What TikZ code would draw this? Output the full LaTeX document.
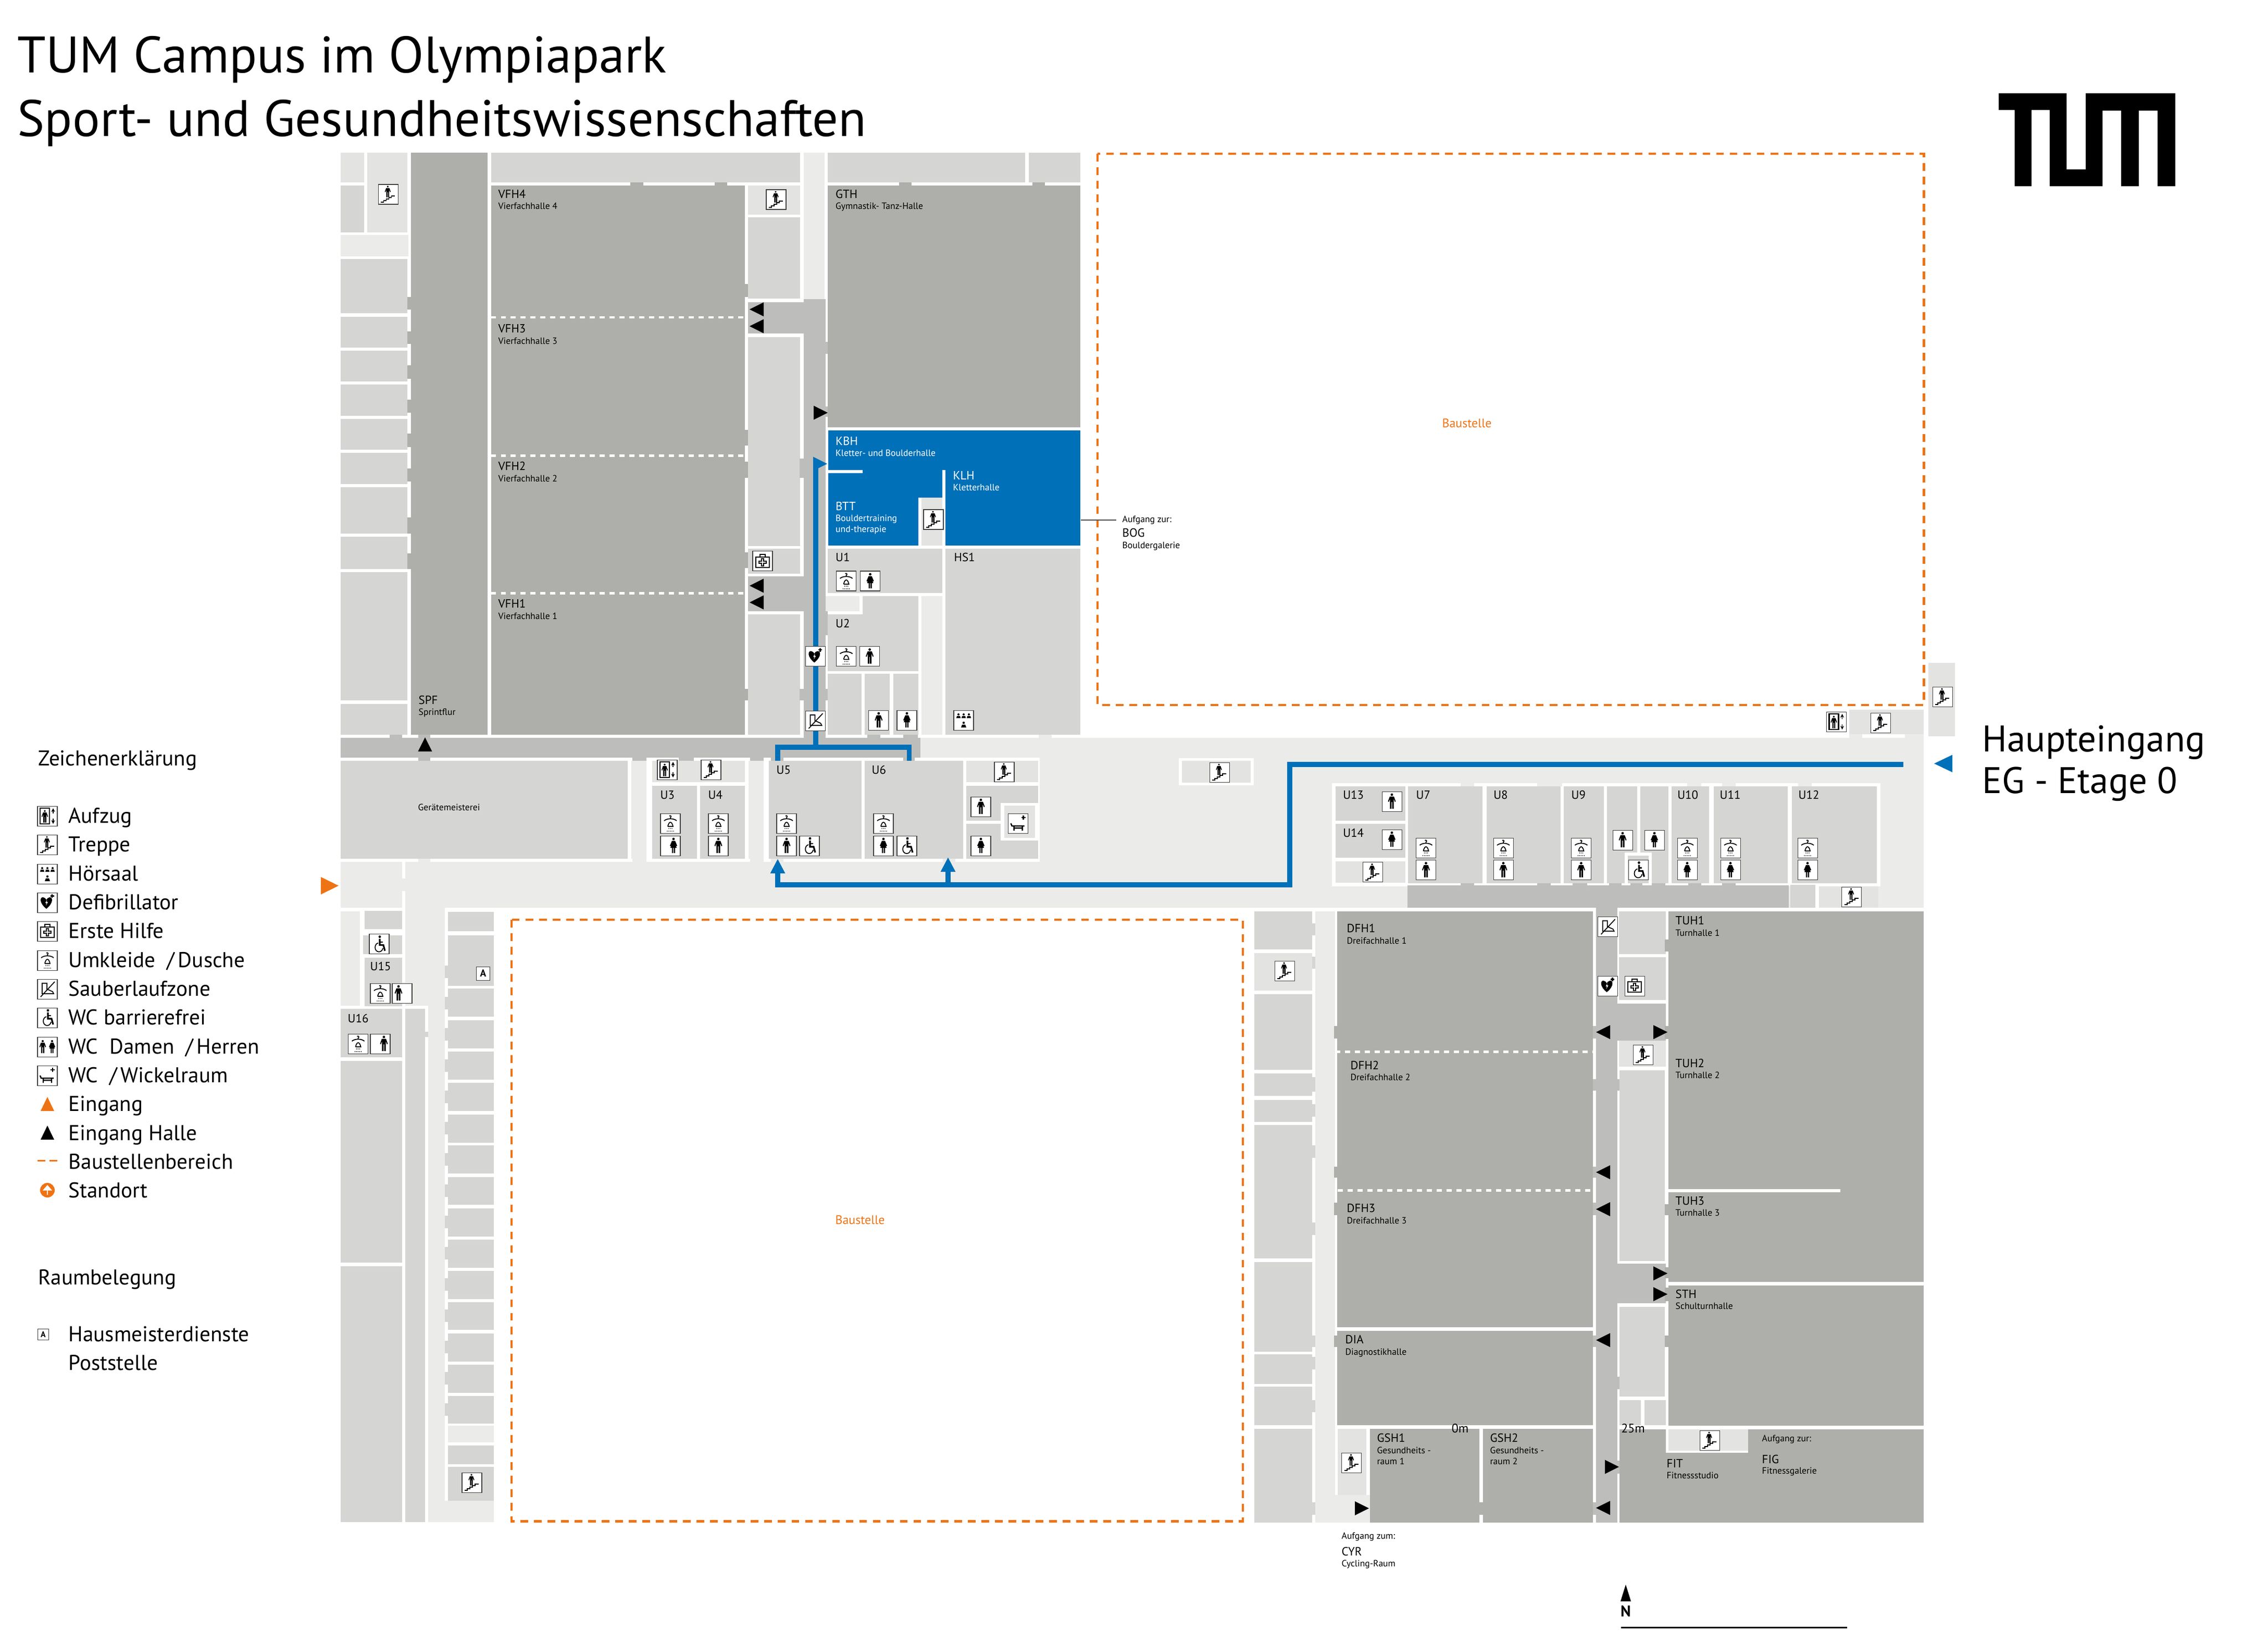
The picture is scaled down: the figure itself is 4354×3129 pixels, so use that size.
\documentclass[tikz,border=0pt]{standalone}
\usepackage{fontspec}
\setmainfont{PT Sans}
\usetikzlibrary{arrows.meta}
\definecolor{hallgrey}{HTML}{AEAFAA}
\definecolor{roomgrey}{HTML}{D5D5D3}
\definecolor{stairgrey}{HTML}{E3E3E1}
\definecolor{floorgrey}{HTML}{EBECE9}
\definecolor{passgrey}{HTML}{BDBEBB}
\definecolor{tumblue}{HTML}{0070B8}
\definecolor{siteorange}{HTML}{EE7314}
\newcommand{\iconbox}{\draw[iconframe] (-19,-19) rectangle (19,19);}
\newcommand{\manglyph}{%
  \fill (0,-13) circle (2.4);
  \fill (-4,-9.5) -- (4,-9.5) -- (7.5,0) -- (5.8,1) -- (3.6,-5) -- (3.6,14) -- (0.6,14) -- (0.6,1) -- (-0.6,1) -- (-0.6,14) -- (-3.6,14) -- (-3.6,-5) -- (-5.8,1) -- (-7.5,0) -- cycle;}
\newcommand{\womanglyph}{%
  \fill (0,-13) circle (2.4);
  \fill (-3,-9.5) -- (3,-9.5) -- (7,0) -- (5.5,1) -- (3,-4) -- (6,4) -- (3,4) -- (3,14) -- (0.6,14) -- (0.6,4) -- (-0.6,4) -- (-0.6,14) -- (-3,14) -- (-3,4) -- (-6,4) -- (-3,-4) -- (-5.5,1) -- (-7,0) -- cycle;}
\tikzset{
  iconframe/.style={fill=white, draw=black!75, line width=0.3pt},
  glyph/.style={draw=black, line width=0.5pt},
  pics/manicon/.style={code={\iconbox \begin{scope}[shift={(#1,0)}]\manglyph\end{scope}}},
  pics/manicon/.default=0,
  pics/womanicon/.style={code={\iconbox \begin{scope}[shift={(#1,0)}]\womanglyph\end{scope}}},
  pics/womanicon/.default=0,
  pics/bothicon/.style={code={\iconbox
    \begin{scope}[shift={(-9,0)},scale=.85]\manglyph\end{scope}
    \begin{scope}[shift={(9,0)},scale=.85]\womanglyph\end{scope}}},
  pics/stairicon/.style={code={\iconbox
    \draw[glyph] (-14,15) -- (-9,15) -- (-9,12) -- (-4,12) -- (-4,9) -- (1,9) -- (1,6) -- (6,6) -- (6,3) -- (13,3);
    \begin{scope}[shift={(-1,-5)},scale=.76]\manglyph\end{scope}}},
  pics/lifticon/.style={code={\iconbox
    \draw[line width=.6pt] (-14,-15) rectangle (4,15);
    \begin{scope}[shift={(-5,1)},scale=.82]\manglyph\end{scope}
    \draw[glyph,-{Stealth[length=2pt,width=2pt]}] (11,-5) -- (11,-15);
    \draw[glyph,-{Stealth[length=2pt,width=2pt]}] (11,5) -- (11,15);}},
  pics/showericon/.style={code={\iconbox
    \draw[glyph] (-12,-5) .. controls (-6,-10) and (6,-10) .. (12,-5);
    \draw[glyph] (0,-8.5) -- (0,-11) .. controls (3,-13) and (0,-16) .. (-2,-14);
    \draw[glyph] (-5,6) -- (5,6) .. controls (4,1) and (2,-2) .. (0,-2) .. controls (-2,-2) and (-4,1) .. (-5,6);
    \foreach \dx in {-3,0,3} \fill (\dx,10) circle (.9);
    \foreach \dx in {-6,-3,0,3,6} \fill (\dx,15) circle (.9);}},
  pics/wheelicon/.style={code={\iconbox
    \fill (1,-14) circle (2.4);
    \draw[line width=.9pt] (1,-10) -- (1,2) -- (8,2) -- (11,13);
    \draw[line width=.6pt] (1,-4) -- (7,-4);
    \draw[glyph] (-2,-2) .. controls (-10,0) and (-10,14) .. (-1,15) .. controls (3,15) and (6,13) .. (7,8);}},
  pics/hearticon/.style={code={\iconbox
    \fill (-2,12) .. controls (-17,0) and (-14,-11) .. (-8,-10) .. controls (-5,-10) and (-3,-7) .. (-2,-5) .. controls (-1,-7) and (1,-10) .. (4,-10) .. controls (10,-11) and (13,0) .. (-2,12) -- cycle;
    \fill[white] (-1,-5) -- (-4,1) -- (-1.5,1) -- (-3,6) -- (1,-1) -- (-1.5,-1) -- cycle;
    \draw[line width=.8pt] (9,-16) -- (9,-9) (5.5,-12.5) -- (12.5,-12.5);}},
  pics/aidicon/.style={code={\iconbox
    \draw[glyph] (-13,-8) rectangle (13,12);
    \draw[glyph] (-5,-8) -- (-5,-13) -- (5,-13) -- (5,-8);
    \draw[glyph] (-2,-5) -- (2,-5) -- (2,0) -- (7,0) -- (7,4) -- (2,4) -- (2,9) -- (-2,9) -- (-2,4) -- (-7,4) -- (-7,0) -- (-2,0) -- cycle;}},
  pics/cleanicon/.style={code={\iconbox
    \draw[glyph] (-10,-11) -- (-1,-11) -- (-1,0) -- (10,5) -- (12,9) -- (-10,9) -- cycle;
    \draw[line width=.5pt] (-13,15) -- (14,-14);}},
  pics/lectureicon/.style={code={\iconbox
    \foreach \dx in {-10,0,10} {\fill (\dx,-11) circle (2); \fill (\dx-4,-4) -- (\dx-3,-8) -- (\dx+3,-8) -- (\dx+4,-4) -- cycle;}
    \fill (0,5) circle (2.2);
    \fill (-5,14) -- (-3,8.5) -- (3,8.5) -- (5,14) -- cycle;}},
  pics/changeicon/.style={code={\iconbox
    \draw[line width=.7pt] (-14,0) -- (-12,5) -- (12,5) (-8,5) -- (-8,14) (8,5) -- (8,14) (-9,9) -- (9,9);
    \draw[line width=.8pt] (10,-15) -- (10,-7) (6,-11) -- (14,-11);}},
  pics/doorarrow/.style={code={\fill[#1] (-13,-13.5) -- (14,0) -- (-13,13.5) -- cycle;}},
  pics/doorarrow/.default=black
}
\begin{document}
\begin{tikzpicture}[
    x=0.01cm, y=-0.01cm,
    hall/.style={fill=hallgrey},
    room/.style={fill=roomgrey},
    stair/.style={fill=stairgrey},
    floorarea/.style={fill=floorgrey},
    pass/.style={fill=passgrey},
    roomcode/.style={anchor=west, inner sep=0pt, yshift=-0.3pt, text height=3.5pt, text depth=0pt, font=\fontsize{6.5}{7}\selectfont},
    roomname/.style={anchor=west, inner sep=0pt, text height=3pt, text depth=0pt, font=\fontsize{5}{5.5}\selectfont},
    whitecode/.style={roomcode, text=white},
    whitename/.style={roomname, text=white},
    legendtext/.style={anchor=west, inner sep=0pt, text height=7.5pt, text depth=0pt, font=\fontsize{11.7}{13}\selectfont},
    titletext/.style={anchor=base west, inner sep=0pt, font=\fontsize{28}{30}\selectfont},
    entrytext/.style={anchor=west, inner sep=0pt, font=\fontsize{20.2}{22}\selectfont},
    sitetext/.style={inner sep=0pt, text=siteorange, font=\fontsize{6.8}{7}\selectfont},
    sitefence/.style={draw=siteorange, line width=1.4pt, dash pattern=on 4.2pt off 3.2pt},
    hallsplit/.style={draw=white, line width=1.4pt, dash pattern=on 2.8pt off 2.6pt},
    route/.style={draw=tumblue, line width=2.8pt},
    routeup/.style={route, -{Triangle[length=8pt,width=7.6pt]}}
  ]
  \useasboundingbox (0,0) rectangle (4354,3129);

  % Title and logo
  \node[titletext] (titleone) at (33,139) {TUM Campus im Olympiapark};
  \node[titletext] (titletwo) at (33,261) {Sport- und Gesundheitswissenschaften};
  \fill (3837,179) -- (3967.3,179) -- (3967.3,325) -- (4004,325) -- (4004,179) -- (4175.7,179) -- (4175.7,357.3) -- (4142,357.3) -- (4142,212.3) -- (4105.7,212.3) -- (4105.7,357.3) -- (4072,357.3) -- (4072,212.3) -- (4036.3,212.3) -- (4036.3,357.3) -- (3934.7,357.3) -- (3934.7,211) -- (3899.7,211) -- (3899.7,357.3) -- (3867.7,357.3) -- (3867.7,211) -- (3837,211) -- cycle;

  % North wing, left column
  \fill[stair] (654,293) rectangle (699,350);
  \fill[room] (654,356) rectangle (699,446);
  \fill[stair] (705,293) rectangle (782,446);
  \fill[floorarea] (654,451) rectangle (784,492);
  \fill[room] (654,497) rectangle (782,601);
  \fill[room] (654,607.5) rectangle (782,667);
  \fill[room] (654,673) rectangle (782,732);
  \fill[room] (654,738) rectangle (782,798);
  \fill[room] (654,804) rectangle (782,863);
  \fill[room] (654,869) rectangle (782,929);
  \fill[room] (654,935) rectangle (782,1024);
  \fill[room] (654,1030) rectangle (782,1092);
  \fill[room] (654,1098) rectangle (782,1344);
  \fill[room] (654,1351) rectangle (782,1410);

  % North wing, halls
  \fill[hall] (788.5,293) rectangle (936,1410);
  \fill[hall] (942.5,355.7) rectangle (1430,1410);
  \foreach \ny/\nz in {570/594,636/660,701/727,767/792,832/858,899/924,993/1024,1062/1092}
    \fill[hall] (782,\ny) rectangle (789,\nz);
  \foreach \ny/\nz in {545/570,825/855,886/917,1060/1090,1322/1344}
    \fill[hall] (1430,\ny) rectangle (1436,\nz);
  \fill[hall] (1210,350) rectangle (1235,356);
  \fill[hall] (1372,350) rectangle (1396,356);
  \draw[hallsplit] (942.5,609) -- (1436,609);
  \draw[hallsplit] (942.5,874.6) -- (1436,874.6);
  \draw[hallsplit] (942.5,1138.6) -- (1436,1138.6);
  \fill[room] (942.5,293) rectangle (1535.6,350);

  % North wing, side rooms
  \fill[stair] (1436,355.7) rectangle (1535.6,411.6);
  \fill[room] (1436,417) rectangle (1535.6,573);
  \fill[room] (1436,646.5) rectangle (1535.6,1047.5);
  \fill[room] (1436,1053) rectangle (1535.6,1101);
  \fill[room] (1436,1179) rectangle (1535.6,1410);
  \fill[floorarea] (1543,293) rectangle (1583,574);
  \fill[pass] (1543,574) rectangle (1585,1416);
  \fill[pass] (1436,580) rectangle (1543,640);
  \fill[pass] (1436,1106) rectangle (1543,1173);
  \foreach \ny/\nz in {656/679,780/800,1150/1219,1322/1344}
    \fill[pass] (1583,\ny) rectangle (1589,\nz);
  \foreach \ny/\nz in {880/917,1322/1344}
    \fill[pass] (1535,\ny) rectangle (1543,\nz);

  % North wing, east block
  \fill[room] (1589,293) rectangle (1968,350);
  \fill[room] (1975,293) rectangle (2074,350);
  \fill[hall] (1589,355.7) rectangle (2074,819.5);
  \fill[hall] (1726,350) rectangle (1750,356);
  \fill[hall] (1982,350) rectangle (2006,356);
  \fill[tumblue] (1590,826) rectangle (2074,1047);
  \fill[white] (1590,902) rectangle (1656,908);
  \fill[white] (1809,902) rectangle (1815,1047);
  \fill[white] (1763,955) rectangle (1809,1047);
  \fill[stair] (1769,955) rectangle (1809,1047);
  \fill[room] (1589,1053) rectangle (1809,1138);
  \fill[room] (1815,1053) rectangle (2074,1410);
  \fill[floorarea] (1585,1144) rectangle (1650,1173);
  \fill[room] (1656,1144) rectangle (1763,1179);
  \fill[room] (1589,1179) rectangle (1763,1288);
  \fill[floorarea] (1769,1144) rectangle (1809,1410);
  \fill[room] (1589,1293) rectangle (1654,1410);
  \fill[room] (1660,1293) rectangle (1708,1410);
  \fill[room] (1715,1293) rectangle (1763,1410);

  % Main corridor
  \fill[floorarea] (1767,1416) rectangle (3693,1742);
  \fill[floorarea] (654,1654) rectangle (1767,1742);
  \fill[floorarea] (1767,1416) rectangle (1996,1460);
  \fill[pass] (654,1416) rectangle (1767,1454);
  \foreach \nx/\nz in {748/772,803/826,1665/1690,1734/1762}
    \fill[pass] (\nx,1410) rectangle (\nz,1416);
  \fill[floorarea] (1994,1410) rectangle (2019,1416);
  \fill[white] (1767,1454) rectangle (1996,1460);

  % Room row south of corridor
  \fill[white] (654,1454) rectangle (1996,1654);
  \foreach \nx/\nz in {803/826,1214/1241,1303/1332,1440/1466,1480/1504,1734/1756}
    \fill[pass] (\nx,1454) rectangle (\nz,1460);
  \foreach \nx/\nz in {803/826,1214/1241,1440/1466,1480/1504,1810/1834}
    \fill[floorarea] (\nx,1648) rectangle (\nz,1654);
  \fill[room] (654,1460) rectangle (1205,1648);
  \fill[floorarea] (1212,1460) rectangle (1241,1648);
  \fill[stair] (1252,1460) rectangle (1430,1501);
  \fill[room] (1252,1507.6) rectangle (1338,1648);
  \fill[room] (1344,1507.6) rectangle (1430,1648);
  \fill[floorarea] (1437,1460) rectangle (1466,1648);
  \fill[room] (1476,1460) rectangle (1654,1648);
  \fill[room] (1660,1460) rectangle (1849,1648);
  \fill[stair] (1855,1460) rectangle (1993,1501);
  \fill[room] (1855,1507.6) rectangle (1993,1541);
  \fill[room] (1855,1541) rectangle (1921,1574.5);
  \fill[room] (1855,1581) rectangle (1921,1612.5);
  \fill[room] (1855,1612.5) rectangle (1993,1648);
  \fill[stair] (1928,1545.5) rectangle (1987,1608);
  \fill[white] (2263,1455) rectangle (2407,1507);
  \fill[stair] (2269,1460) rectangle (2401,1502);

  % West wing
  \fill[white] (772,1654) rectangle (778,1686);
  \fill[white] (772,1710) rectangle (778,1742);
  \fill[floorarea] (654,1749) rectangle (691,1930);
  \fill[floorarea] (778,1742) rectangle (854,1930);
  \fill[floorarea] (822,1930) rectangle (854,2880);
  \fill[floorarea] (822,2880) rectangle (948,2921);
  \fill[floorarea] (860,2736) rectangle (948,2768);
  \fill[white] (691,1742) rectangle (700,1936);
  \fill[room] (700,1748) rectangle (772,1783);
  \fill[room] (697,1795) rectangle (772,1831);
  \fill[room] (700,1838) rectangle (772,1930.5);
  \fill[room] (654,1936) rectangle (772,2029);
  \fill[room] (654,2036) rectangle (772,2423);
  \fill[room] (654,2430) rectangle (772,2921);
  \fill[white] (772,1742) rectangle (778,2921);
  \fill[room] (778,1936) rectangle (816,2921);
  \fill[white] (816,1930) rectangle (822,2921);
  \fill[room] (816,1980) rectangle (822,1990);
  \fill[white] (854,1742) rectangle (860,2880);
  \fill[white] (854,1743) rectangle (948,1749);
  \foreach \ny/\nz in {1750/1787,1794.5/1891.5,1897/1951,1958/2012,2018/2072,2078/2132,2139/2192.5,2198/2252,2259/2312,2318.6/2372.5,2379/2433,2439/2493,2499/2552,2559/2613,2619/2673,2679/2732,2774/2809.5,2815/2880}
    \fill[room] (860,\ny) rectangle (948,\nz);
  \foreach \ny in {1853,1913,...,2693}
    \fill[room] (854,\ny) rectangle (860,\ny+24);

  % East block north of the corridor
  \fill[stair] (3702,1272) rectangle (3753,1413);
  \fill[stair] (3549.5,1362) rectangle (3693,1409);
  \fill[floorarea] (3549.5,1409) rectangle (3575,1416);
  \fill[floorarea] (3657,1409) rectangle (3693,1416);

  % East block south of the corridor
  \fill[white] (2557,1503) rectangle (3610,1701);
  \fill[pass] (2702,1699) rectangle (3434,1742);
  \fill[room] (3437,1697.5) rectangle (3485,1742);
  \fill[white] (3485,1697) rectangle (3492,1742);
  \fill[stair] (3492,1701) rectangle (3606,1742);
  \foreach \nx/\nz in {2804/2830,2951/2977,3019/3047,3089/3113,3130/3153,3171/3197,3241/3266,3306/3332}
    \fill[pass] (\nx,1694) rectangle (\nz,1701);
  \foreach \nx/\nz in {2804/2830,2951/2999,3239/3266,3306/3332,3452/3478}
    \fill[floorarea] (\nx,1503) rectangle (\nz,1509);
  \fill[room] (2563.5,1509) rectangle (2698,1574.6);
  \fill[room] (2563.5,1581) rectangle (2698,1646);
  \fill[stair] (2563.5,1653) rectangle (2698,1693.5);
  \fill[room] (2703,1509) rectangle (2846,1694.5);
  \fill[room] (2854,1509) rectangle (2996,1694.5);
  \fill[room] (3002,1509) rectangle (3079,1694.5);
  \fill[room] (3085,1509) rectangle (3143,1694.5);
  \fill[room] (3149,1509) rectangle (3203,1694.5);
  \fill[white] (3119,1636) rectangle (3171,1694.5);
  \fill[room] (3125,1642) rectangle (3165,1694.5);
  \fill[room] (3209,1509) rectangle (3281,1694.5);
  \fill[room] (3290,1509) rectangle (3432,1694.5);
  \fill[room] (3439.5,1509) rectangle (3603,1694.5);

  % South-east halls
  \fill[room] (2408,1749) rectangle (2519,1822);
  \fill[stair] (2408,1829) rectangle (2519,1901);
  \fill[room] (2408,1908) rectangle (2519,2053);
  \fill[room] (2408,2060) rectangle (2519,2103);
  \fill[room] (2408,2110.6) rectangle (2519,2153);
  \fill[room] (2408,2159) rectangle (2519,2415);
  \fill[room] (2408,2421.6) rectangle (2519,2594);
  \fill[room] (2408,2599) rectangle (2519,2656);
  \fill[room] (2408,2661) rectangle (2519,2735);
  \fill[room] (2408,2742) rectangle (2519,2922);
  \foreach \ny/\nz in {1772/1795,1836/1859,2067/2095,2119/2143,2198/2222,2346/2370,2563/2585,2604/2628,2687/2710,2883/2907}
    \fill[room] (2519,\ny) rectangle (2525,\nz);
  \fill[floorarea] (2525,1749) rectangle (2563,2922);
  \fill[floorarea] (2563,2869) rectangle (2630,2922);
  \fill[stair] (2568,2742) rectangle (2623,2869);
  \fill[hall] (2567,1749) rectangle (3058,2547);
  \fill[hall] (2567,2554) rectangle (3058,2735);
  \fill[hall] (2630,2742) rectangle (2840,2922);
  \fill[hall] (2846.5,2742) rectangle (3058,2922);
  \fill[hall] (2840,2883) rectangle (2846.5,2907);
  \foreach \ny/\nz in {1969/1993,2239/2260,2308/2332,2563/2585}
    \fill[hall] (2561,\ny) rectangle (2567,\nz);
  \draw[hallsplit] (2563,2018.5) -- (3062,2018.5);
  \draw[hallsplit] (2568,2284.7) -- (3062,2284.7);
  \fill[pass] (3063.5,1742) rectangle (3104.5,2922);
  \fill[pass] (3063.5,1925.6) rectangle (3198,1997);
  \fill[pass] (3104,2425) rectangle (3198,2501);
  \foreach \ny/\nz in {1969/1993,2071/2093,2239/2260,2308/2332,2563/2585,2883/2907}
    \fill[pass] (3058,\ny) rectangle (3064,\nz);
  \fill[room] (3108,1749) rectangle (3198,1831);
  \fill[room] (3108,1837) rectangle (3198,1919);
  \fill[stair] (3108,1997) rectangle (3198,2046.5);
  \fill[room] (3109,2054) rectangle (3196,2420);
  \fill[room] (3109,2508) rectangle (3196,2680);
  \fill[room] (3109,2686.6) rectangle (3150,2735);
  \fill[room] (3157,2686.6) rectangle (3198,2735);
  \foreach \ny/\nz in {2071/2093,2642/2666,2803/2828}
    \fill[pass] (3104,\ny) rectangle (3109,\nz);
  \fill[hall] (3203,1749) rectangle (3693,2459.5);
  \fill[white] (3203,2282) rectangle (3533,2287.5);
  \fill[hall] (3203,2467) rectangle (3693,2736);
  \foreach \ny/\nz in {1803/1826,1969/1994,2311/2332,2432/2453,2471/2497,2563/2585}
    \fill[hall] (3196,\ny) rectangle (3203,\nz);
  \fill[hall] (3109,2743) rectangle (3693,2922);
  \fill[white] (3198,2743) rectangle (3356,2788);
  \fill[stair] (3203,2743) rectangle (3356,2784);

  % Construction sites
  \draw[sitefence] (982,1765) rectangle (2386,2919);
  \draw[sitefence] (2107,295) rectangle (3693,1353);
  \node[sitetext] (siteone) at (2816,812) {Baustelle};
  \node[sitetext] (sitetwo) at (1651,2341) {Baustelle};

  % Routes
  \coordinate (gate) at (3654,1467);
  \coordinate (bend) at (2476,1467);
  \coordinate (lane) at (2476,1698);
  \coordinate (junction) at (1820,1698);
  \coordinate (lanewest) at (1493,1698);
  \coordinate (doorfive) at (1493,1648);
  \coordinate (doorsix) at (1820,1645);
  \draw[routeup] (gate) -- (bend) -- (lane) -- (lanewest) -- (doorfive);
  \draw[routeup] (junction) -- (doorsix);
  \coordinate (bracketa) at (1493,1460);
  \coordinate (bracketb) at (1493,1434);
  \coordinate (bracketc) at (1745.5,1434);
  \coordinate (bracketd) at (1745.5,1460);
  \coordinate (stemfoot) at (1566,1434);
  \coordinate (stemhead) at (1566,890);
  \draw[route] (bracketa) -- (bracketb) -- (bracketc) -- (bracketd);
  \draw[route] (stemfoot) -- (stemhead);
  \pic at (1574,890) {doorarrow=tumblue};

  % Door arrows
  \foreach \ny in {593.7,626,1124,1156}
    \pic[rotate=180] at (1453,\ny) {doorarrow};
  \pic at (1575,792) {doorarrow};
  \pic[rotate=90] at (816,1429) {doorarrow};
  \foreach \ny in {1980.7,2249.6,2320.5,2571.7,2893.8}
    \pic[rotate=180] at (3078,\ny) {doorarrow};
  \pic at (3187,1980.7) {doorarrow};
  \pic at (3187,2443.7) {doorarrow};
  \pic at (3187,2483.6) {doorarrow};
  \pic at (3094,2815) {doorarrow};
  \pic at (2614,2894.5) {doorarrow};

  % Entrances
  \fill[siteorange] (616,1683) -- (650,1699.7) -- (616,1716.5) -- cycle;
  \fill[tumblue] (3748,1448.6) -- (3713,1465.3) -- (3748,1482) -- cycle;
  \node[entrytext] (entryone) at (3805,1425) {Haupteingang};
  \node[entrytext] (entrytwo) at (3805,1505) {EG - Etage 0};

  % Room labels, north
  \node[roomcode] (vfhfour) at (956,373) {VFH4};
  \node[roomname] (vfhfourn) at (956,396) {Vierfachhalle 4};
  \node[roomcode] (vfhthree) at (956,631) {VFH3};
  \node[roomname] (vfhthreen) at (956,655) {Vierfachhalle 3};
  \node[roomcode] (vfhtwo) at (956,895) {VFH2};
  \node[roomname] (vfhtwon) at (956,919) {Vierfachhalle 2};
  \node[roomcode] (vfhone) at (956,1159) {VFH1};
  \node[roomname] (vfhonen) at (956,1183) {Vierfachhalle 1};
  \node[roomcode] (spf) at (803,1344) {SPF};
  \node[roomname] (spfn) at (803,1367) {Sprintflur};
  \node[roomcode] (gth) at (1603.5,373) {GTH};
  \node[roomname] (gthn) at (1603.5,396) {Gymnastik- Tanz-Halle};
  \node[whitecode] (kbh) at (1603.5,847) {KBH};
  \node[whitename] (kbhn) at (1603.5,870) {Kletter- und Boulderhalle};
  \node[whitecode] (klh) at (1829,913.6) {KLH};
  \node[whitename] (klhn) at (1829,936) {Kletterhalle};
  \node[whitecode] (btt) at (1603.5,972) {BTT};
  \node[whitename] (bttn) at (1603.5,995) {Bouldertraining};
  \node[whitename] (bttm) at (1603.5,1016) {und-therapie};
  \node[roomcode] (uone) at (1603.5,1070.5) {U1};
  \node[roomcode] (hsone) at (1831,1070.5) {HS1};
  \node[roomcode] (utwo) at (1603.5,1197.5) {U2};

  % Leader to the bouldering gallery
  \coordinate (leaderfrom) at (2075,998);
  \coordinate (leaderto) at (2143,998);
  \draw[black!70, line width=0.3pt] (leaderfrom) -- (leaderto);
  \node[roomname] (aufgangbog) at (2154,997) {Aufgang zur:};
  \node[roomcode] (bog) at (2154,1023) {BOG};
  \node[roomname] (bogn) at (2154,1047) {Bouldergalerie};

  % Room labels, centre
  \node[roomname] (geraete) at (802,1550) {Gerätemeisterei};
  \node[roomcode] (uthree) at (1267,1526) {U3};
  \node[roomcode] (ufour) at (1359,1526) {U4};
  \node[roomcode] (ufive) at (1490,1478.6) {U5};
  \node[roomcode] (usix) at (1673,1478.6) {U6};
  \node[roomcode] (ufifteen) at (710,1855) {U15};
  \node[roomcode] (usixteen) at (667,1955) {U16};
  \node[roomcode] (uthirteen) at (2577.6,1526.6) {U13};
  \node[roomcode] (ufourteen) at (2577.6,1599) {U14};
  \node[roomcode] (useven) at (2718,1526.6) {U7};
  \node[roomcode] (ueight) at (2866.6,1526.6) {U8};
  \node[roomcode] (unine) at (3016,1526.6) {U9};
  \node[roomcode] (uten) at (3219.6,1526.6) {U10};
  \node[roomcode] (ueleven) at (3301,1526.6) {U11};
  \node[roomcode] (utwelve) at (3452,1526.6) {U12};

  % Room labels, south-east
  \node[roomcode] (dfhone) at (2585,1782) {DFH1};
  \node[roomname] (dfhonen) at (2585,1806) {Dreifachhalle 1};
  \node[roomcode] (dfhtwo) at (2592,2045.5) {DFH2};
  \node[roomname] (dfhtwon) at (2592,2068) {Dreifachhalle 2};
  \node[roomcode] (dfhthree) at (2585,2319) {DFH3};
  \node[roomname] (dfhthreen) at (2585,2343) {Dreifachhalle 3};
  \node[roomcode] (dia) at (2582,2571) {DIA};
  \node[roomname] (dian) at (2582,2595) {Diagnostikhalle};
  \node[roomcode] (tuhone) at (3216,1767) {TUH1};
  \node[roomname] (tuhonen) at (3216,1791) {Turnhalle 1};
  \node[roomcode] (tuhtwo) at (3216,2041) {TUH2};
  \node[roomname] (tuhtwon) at (3216,2064) {Turnhalle 2};
  \node[roomcode] (tuhthree) at (3216,2305) {TUH3};
  \node[roomname] (tuhthreen) at (3216,2328) {Turnhalle 3};
  \node[roomcode] (sth) at (3216,2484) {STH};
  \node[roomname] (sthn) at (3216,2507) {Schulturnhalle};
  \node[roomcode] (gshone) at (2643,2760) {GSH1};
  \node[roomname] (gshonen) at (2643,2784) {Gesundheits -};
  \node[roomname] (gshonem) at (2643,2805) {raum 1};
  \node[roomcode] (gshtwo) at (2860,2760) {GSH2};
  \node[roomname] (gshtwon) at (2860,2784) {Gesundheits -};
  \node[roomname] (gshtwom) at (2860,2805) {raum 2};
  \node[roomcode] (fit) at (3199,2809) {FIT};
  \node[roomname] (fitn) at (3199,2832) {Fitnessstudio};
  \node[roomname] (aufgangfig) at (3382,2761) {Aufgang zur:};
  \node[roomcode] (fig) at (3382,2801) {FIG};
  \node[roomname] (fign) at (3382,2823.5) {Fitnessgalerie};
  \node[roomname] (aufgangcyr) at (2575,2948) {Aufgang zum:};
  \node[roomcode] (cyr) at (2575,2978) {CYR};
  \node[roomname] (cyrn) at (2575,3001) {Cycling-Raum};

  % Scale and north arrow
  \node[roomname, anchor=center, font=\fontsize{6.8}{7}\selectfont] (zerom) at (2803,2744) {0m};
  \node[roomname, anchor=center, font=\fontsize{6.8}{7}\selectfont] (twentyfivem) at (3135,2744) {25m};
  \fill (3111,3073) -- (3121,3041) -- (3131,3073) -- cycle;
  \node[roomcode, anchor=center, font=\bfseries\fontsize{8.5}{9}\selectfont] (north) at (3121,3095) {N};
  \coordinate (scalefrom) at (3111.6,3123.6);
  \coordinate (scaleto) at (3546,3123.6);
  \draw[line width=0.7pt] (scalefrom) -- (scaleto);

  % Icons in the plan
  \foreach \ix/\iy in {745.4/373,1490/383,1792/997,1365/1477,1928/1481,2341/1482,906/2845,2635/1673.6,3554.6/1721,2466/1863,3154/2024,2594.6/2807,3282/2764,3729/1337,3610/1387}
    \pic at (\ix,\iy) {stairicon};
  \foreach \ix/\iy in {1624.6/1115,1624.6/1259.5,1287/1580,1379/1580,1510/1580,1696/1580,730/1906,687.6/2003,2737.5/1627,2886/1627,3035.4/1627,3239/1627,3322/1627,3470/1627}
    \pic at (\ix,\iy) {showericon};
  \foreach \ix/\iy in {1669.6/1259.5,1686.8/1382,1379/1623,1510/1623,1883/1548,2672/1538,2737.5/1669.5,2886/1669.5,3035.4/1669.5,3115/1612}
    \pic at (\ix,\iy) {manicon};
  \foreach \ix/\iy in {1670.5/1115,1741/1382,1696/1623,1883/1623,2672/1611,3176/1612,3239/1669.5,3322/1669.5,3470/1669.5}
    \pic at (\ix,\iy) {womanicon};
  \pic at (1287,1623) {womanicon=6};
  \pic at (772,1906) {manicon=-7};
  \pic at (730,2003) {manicon=7};
  \foreach \ix/\iy in {1554/1623,1741/1623,728/1811.6,3145.4/1669.5}
    \pic at (\ix,\iy) {wheelicon};
  \foreach \ix/\iy in {1281/1477,3525.5/1385}
    \pic at (\ix,\iy) {lifticon};
  \foreach \ix/\iy in {1464/1076.6,3138/1892}
    \pic at (\ix,\iy) {aidicon};
  \foreach \ix/\iy in {1565.3/1259.5,3086.6/1892}
    \pic at (\ix,\iy) {hearticon};
  \foreach \ix/\iy in {1565.5/1383,3086.6/1778}
    \pic at (\ix,\iy) {cleanicon};
  \pic at (1850,1382) {lectureicon};
  \pic at (1954.6,1580) {changeicon};
  \node[draw=black!75, fill=white, line width=0.3pt, inner sep=0pt, minimum size=26*0.2845pt, font=\bfseries\fontsize{5.5}{6}\selectfont] (posticon) at (927.5,1868) {A};

  % Legend
  \node[legendtext] (legendhead) at (73,1456) {Zeichenerklärung};
  \pic at (91,1566) {lifticon};
  \node[legendtext] (laufzug) at (131,1566) {Aufzug};
  \pic at (91,1621) {stairicon};
  \node[legendtext] (ltreppe) at (131,1621) {Treppe};
  \pic at (91,1677) {lectureicon};
  \node[legendtext] (lhoersaal) at (131,1677) {Hörsaal};
  \pic at (91,1732) {hearticon};
  \node[legendtext] (ldefi) at (131,1732) {Defibrillator};
  \pic at (91,1787) {aidicon};
  \node[legendtext] (lhilfe) at (131,1787) {Erste Hilfe};
  \pic at (91,1843) {showericon};
  \node[legendtext] (lumkleide) at (131,1843) {Umkleide\ \ /\,Dusche};
  \pic at (91,1898) {cleanicon};
  \node[legendtext] (lsauber) at (131,1898) {Sauberlaufzone};
  \pic at (91,1953) {wheelicon};
  \node[legendtext] (lbarriere) at (131,1953) {WC barrierefrei};
  \pic at (91,2009) {bothicon};
  \node[legendtext] (ldamen) at (131,2009) {WC\ \ Damen\ \ /\,Herren};
  \pic at (91,2064) {changeicon};
  \node[legendtext] (lwickel) at (131,2064) {WC\ \ /\,Wickelraum};
  \fill[siteorange] (78,2132) -- (91,2105) -- (104,2132) -- cycle;
  \node[legendtext] (leingang) at (131,2119) {Eingang};
  \fill (78,2187) -- (91,2160) -- (104,2187) -- cycle;
  \node[legendtext] (lhalle) at (131,2175) {Eingang Halle};
  \draw[siteorange, line width=1.1pt] (72,2227.5) -- (87,2227.5) (95,2227.5) -- (110,2227.5);
  \node[legendtext] (lbau) at (131,2230) {Baustellenbereich};
  \fill[siteorange] (91,2284) circle (14);
  \draw[white, line width=0.8pt, -{Triangle[length=3pt,width=5pt]}] (91,2293) -- (91,2274);
  \node[legendtext] (lstandort) at (131,2285) {Standort};
  \node[legendtext] (legendrooms) at (73,2452) {Raumbelegung};
  \node[draw=black!75, fill=white, line width=0.3pt, inner sep=0pt, minimum size=21*0.2845pt, font=\bfseries\fontsize{4.5}{5}\selectfont] (legendpost) at (83,2561) {A};
  \node[legendtext] (lhaus) at (131,2561) {Hausmeisterdienste};
  \node[legendtext] (lpost) at (131,2616) {Poststelle};
\end{tikzpicture}
\end{document}
